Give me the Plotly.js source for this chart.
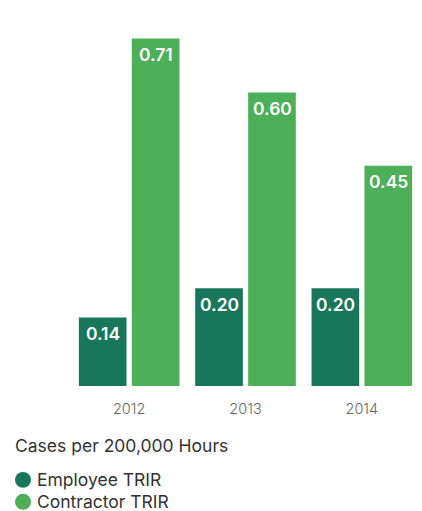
<!DOCTYPE html>
<html><head><meta charset="utf-8">
<script src="https://cdn.plot.ly/plotly-3.0.1.min.js"></script>
<style>html,body{margin:0;padding:0;background:#fff}#c{width:422px;height:511px}</style>
</head><body><div id="c"></div>
<script>
const years = ['2012', '2013', '2014'];
const employee = [0.14, 0.20, 0.20];
const contractor = [0.71, 0.60, 0.45];
const seriesNames = ['Employee TRIR', 'Contractor TRIR'];
const legendTitle = 'Cases per 200,000 Hours';

const cEmp = '#18775A', cCon = '#4DB058';
const colors = [cEmp, cCon];
const font = 'Inter, "Open Sans", sans-serif';

function barTrace(y, name, color) {
  return {
    type: 'bar', x: years, y: y, name: name, showlegend: false,
    marker: {color: color, line: {width: 0}}, hoverinfo: 'skip'
  };
}
const data = [barTrace(employee, seriesNames[0], cEmp), barTrace(contractor, seriesNames[1], cCon)];

const annotations = [];
[employee, contractor].forEach((vals, s) => {
  vals.forEach((v, i) => {
    annotations.push({x: i, y: v, xref: 'x', yref: 'y', text: v.toFixed(2),
      showarrow: false, xshift: s === 0 ? -26.5 : 26.5, yshift: -16, yanchor: 'middle', xanchor: 'center',
      font: {color: '#ffffff', size: 17.5, family: font, weight: 600}});
  });
});
// legend (manual)
const PH = 367.5, PW = 349, L = 71, B = 386;
const py = yy => (B - yy) / PH;  // pixel y -> paper
const px = xx => (xx - L) / PW;
annotations.push({xref: 'paper', yref: 'paper', x: px(13), y: py(446), xanchor: 'left', yanchor: 'middle',
  text: legendTitle, showarrow: false, font: {size: 17.5, color: '#333', family: font}});
const shapes = [];
seriesNames.forEach((n, k) => {
  const cy = 480 + k * 22;
  annotations.push({xref: 'paper', yref: 'paper', x: px(35), y: py(cy), xanchor: 'left', yanchor: 'middle',
    text: n, showarrow: false, font: {size: 17.5, color: '#333', family: font}});
  shapes.push({type: 'circle', xref: 'paper', yref: 'paper', x0: px(15), x1: px(31), y0: py(cy - 8), y1: py(cy + 8),
    fillcolor: colors[k], line: {width: 0}});
});

const layout = {
  width: 422, height: 511,
  margin: {l: L, r: 2, t: 18.5, b: 125, autoexpand: false},
  paper_bgcolor: '#fff', plot_bgcolor: '#fff',
  barmode: 'group', bargap: 0.09, bargroupgap: 0.1,
  font: {family: font, color: '#444'},
  xaxis: {type: 'category', range: [-0.5, 2.5], showgrid: false, zeroline: false, showline: false,
    ticks: '', ticklabelstandoff: 12, tickfont: {size: 14.5, color: '#666', family: font, weight: 300}, fixedrange: true},
  yaxis: {range: [0, 0.75], visible: false, fixedrange: true},
  showlegend: false,
  annotations: annotations, shapes: shapes
};
Plotly.newPlot('c', data, layout, {displayModeBar: false, staticPlot: true});
</script></body></html>
